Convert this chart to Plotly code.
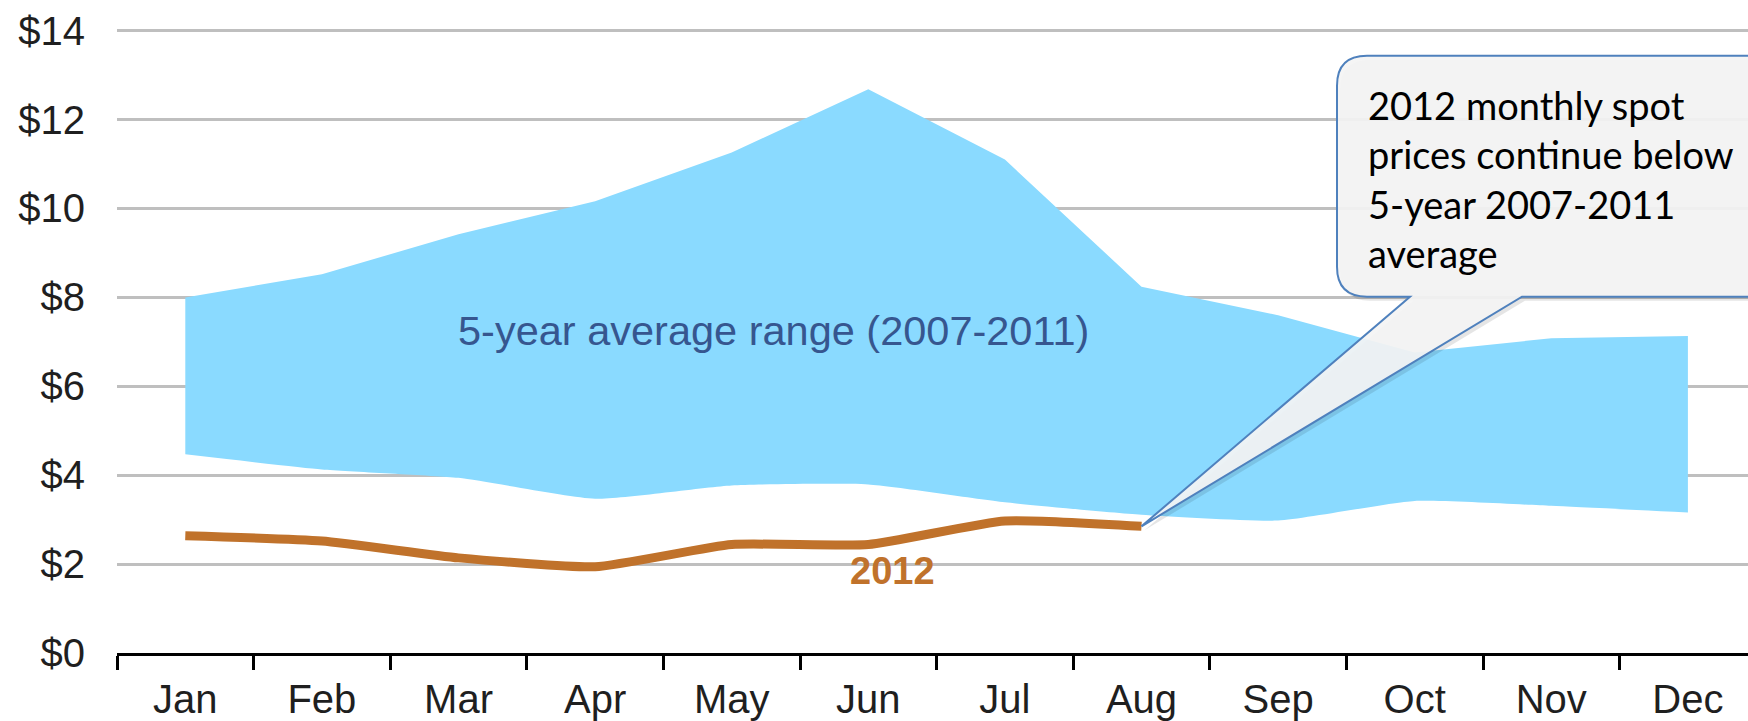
import plotly.graph_objects as go

# ---- data ----
months = ["Jan", "Feb", "Mar", "Apr", "May", "Jun", "Jul", "Aug", "Sep", "Oct", "Nov", "Dec"]
range_upper = [8.0, 8.52, 9.42, 10.16, 11.26, 12.68, 11.1, 8.24, 7.6, 6.76, 7.08, 7.13]
range_lower = [4.47, 4.13, 3.94, 3.47, 3.77, 3.79, 3.39, 3.11, 2.98, 3.42, 3.31, 3.16]
months_2012 = months[:8]
price_2012 = [2.64, 2.52, 2.14, 1.94, 2.44, 2.44, 2.97, 2.85]
y_ticks = [0, 2, 4, 6, 8, 10, 12, 14]
y_tick_labels = ["$" + str(v) for v in y_ticks]

# ---- layout geometry (pixels) ----
W, H = 1748, 721
ML, MR, MT, MB = 117, 0, 24, 65
PW, PH = W - ML - MR, H - MT - MB
XR = [-0.5, 11.44]
YR = [0, 14.15]


def px_to_paper(px, py):
    return (px - ML) / PW, (H - MB - py) / PH


def data_to_px(xi, yv):
    px = ML + (xi - XR[0]) / (XR[1] - XR[0]) * PW
    py = H - MB - (yv - YR[0]) / (YR[1] - YR[0]) * PH
    return px, py


fig = go.Figure()

fig.add_trace(go.Scatter(
    x=months, y=range_lower, mode="lines",
    line=dict(width=0, color="#8ADAFF", shape="spline", smoothing=0.5),
    hoverinfo="skip", showlegend=False,
))
fig.add_trace(go.Scatter(
    x=months, y=range_upper, mode="lines", fill="tonexty",
    fillcolor="#8ADAFF", line=dict(width=0, color="#8ADAFF"),
    showlegend=False,
))
fig.add_trace(go.Scatter(
    x=months_2012, y=price_2012, mode="lines",
    line=dict(width=9, color="#C0722B", shape="spline", smoothing=0.5),
    showlegend=False,
))

# ---- callout bubble ----
tip_px, tip_py = data_to_px(months.index(months_2012[-1]), price_2012[-1])
L, T, B, R, r = 1337, 56, 298, 1800, 30
base_l, base_r = 1410, 1522


def bubble_path(dx=0, dy=0):
    def P(x, y):
        xp, yp = px_to_paper(x + dx, y + dy)
        return f"{xp:.5f},{yp:.5f}"
    d = "M " + P(L + r, T)
    d += " L " + P(R, T)
    d += " L " + P(R, B)
    d += " L " + P(base_r, B)
    d += " L " + P(tip_px, tip_py)
    d += " L " + P(base_l, B)
    d += " L " + P(L + r, B)
    d += " Q " + P(L, B) + " " + P(L, B - r)
    d += " L " + P(L, T + r)
    d += " Q " + P(L, T) + " " + P(L + r, T)
    d += " Z"
    return d


shapes = [
    dict(type="path", xref="paper", yref="paper", path=bubble_path(3, 4),
         fillcolor="rgba(0,0,0,0.10)", line=dict(width=0), layer="above"),
    dict(type="path", xref="paper", yref="paper", path=bubble_path(),
         fillcolor="rgba(244,244,244,0.92)", line=dict(color="#4F81BD", width=2),
         layer="above"),
]

tx, ty = px_to_paper(1366, 80)
annotations = [
    dict(xref="paper", yref="paper", x=tx, y=ty, xanchor="left", yanchor="top",
         align="left", showarrow=False,
         text="2012 monthly spot<br>prices continue below<br>5-year 2007-2011<br>average",
         font=dict(family="Lato, Carlito, sans-serif", size=38, color="#000000")),
    dict(xref="x", yref="y", x=4.306, y=7.25, showarrow=False,
         text="5-year average range (2007-2011)",
         font=dict(family="Liberation Sans, Arial", size=41.5, color="#36568F")),
    dict(xref="x", yref="y", x=5.18, y=1.85, showarrow=False,
         text="<b>2012</b>",
         font=dict(family="Liberation Sans, Arial", size=38, color="#C0722B")),
]

fig.update_layout(
    width=W, height=H,
    margin=dict(l=ML, r=MR, t=MT, b=MB, pad=0),
    paper_bgcolor="white", plot_bgcolor="white",
    shapes=shapes, annotations=annotations,
    font=dict(family="Liberation Sans, Arial", size=40, color="#1F1F1F"),
    xaxis=dict(
        type="category", categoryorder="array", categoryarray=months,
        range=XR, tickson="boundaries", ticks="outside", ticklen=14,
        tickwidth=2.5, tickcolor="#000000", showline=True, linecolor="#000000",
        linewidth=3, showgrid=False, zeroline=False,
        tickfont=dict(size=40, color="#1F1F1F"), ticklabelstandoff=9,
    ),
    yaxis=dict(
        range=YR, tickvals=y_ticks, ticktext=y_tick_labels, showgrid=True,
        gridcolor="#BFBFBF", gridwidth=3, zeroline=False, showline=False,
        ticks="", tickfont=dict(size=40, color="#1F1F1F"), ticklabelstandoff=31,
    ),
    showlegend=False,
)

fig.write_html(
    "out.html",
    config={"displayModeBar": False},
    post_script="document.body.style.margin='0';document.body.style.overflow='hidden';",
)
